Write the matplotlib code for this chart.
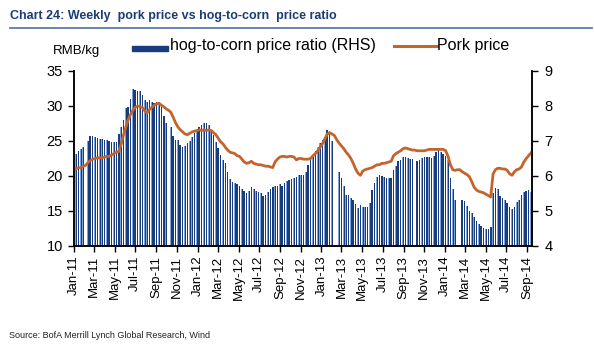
import numpy as np
import pandas as pd
import matplotlib
matplotlib.use("Agg")
import matplotlib.pyplot as plt
import matplotlib.dates as mdates
from matplotlib.lines import Line2D
from matplotlib.patches import Rectangle

nan = np.nan

# weekly observations, starting first Friday of 2011
weeks = pd.date_range("2011-01-07", periods=193, freq="7D")

# hog-to-corn price ratio (RHS), gaps = holiday weeks with no reading
ratio = [
    6.62, 6.72, 6.78, 6.82, nan, 7.00, 7.14, 7.14, 7.12, 7.08,
    7.06, 7.05, 7.04, 7.02, 7.00, 6.98, 6.96, 6.96, 7.20, 7.40,
    7.60, 7.94, 7.96, 8.20, 8.48, 8.46, 8.44, 8.42, 8.30, 8.18,
    8.10, 8.16, 8.12, 8.08, 8.10, 8.08, 7.98, 7.70, 7.52, nan,
    7.40, 7.14, 7.04, 7.02, 6.88, 6.82, 6.86, 6.94, 7.00, 7.10,
    7.22, 7.32, 7.40, 7.46, 7.50, 7.50, 7.46, 7.32, 7.16, 6.98,
    6.80, 6.60, 6.46, 6.38, 6.10, 5.90, 5.82, 5.80, 5.76, 5.70,
    5.64, 5.56, 5.50, 5.58, 5.68, 5.62, 5.58, 5.54, 5.50, 5.44,
    5.46, 5.54, 5.62, 5.68, 5.72, 5.72, 5.76, 5.72, 5.80, 5.86,
    5.88, 5.90, 5.93, 5.96, 6.03, 6.03, 6.03, 6.10, 6.30, 6.45,
    6.55, 6.70, 6.82, 6.95, 7.04, 7.10, 7.30, 7.25, 7.00, nan,
    nan, 6.12, 5.95, 5.70, 5.46, 5.46, 5.38, 5.30, 5.20, 5.08,
    5.16, 5.12, 5.12, 5.12, 5.22, 5.60, 5.80, 5.98, 6.02, 6.01,
    5.98, 5.95, 5.93, 5.95, 6.18, 6.29, 6.42, 6.46, 6.55, 6.53,
    6.50, 6.48, 6.48, nan, 6.44, 6.46, 6.50, 6.53, 6.55, 6.53,
    6.50, 6.58, 6.68, 6.74, 6.68, 6.64, 6.58, 6.45, 5.95, 5.62,
    5.31, nan, nan, 5.31, 5.28, 5.14, 5.00, 4.94, 4.82, 4.70,
    4.62, 4.57, 4.52, 4.49, 4.48, 4.55, 5.50, 5.65, 5.62, 5.44,
    5.38, 5.30, 5.24, 5.12, 5.05, 5.12, 5.25, 5.30, 5.45, 5.54,
    5.56, 5.60, 5.55,
]

# pork price, RMB/kg (LHS)
pork = [
    21.0, 21.2, 21.2, 21.4, 21.5, 21.9, 22.2, 22.4, 22.5, 22.6,
    22.6, 22.6, 22.7, 22.8, 22.8, 23.0, 23.2, 23.4, 23.5, 24.5,
    25.8, 27.0, 28.0, 28.8, 29.4, 29.8, 30.0, 29.9, 29.8, 29.3,
    29.0, 29.5, 29.8, 30.1, 30.3, 30.4, 30.1, 29.9, 29.6, 29.4,
    29.1, 28.4, 27.6, 27.0, 26.6, 26.3, 26.0, 25.9, 26.1, 26.3,
    26.4, 26.5, 26.6, 26.5, 26.6, 26.5, 26.6, 26.5, 26.2, 25.9,
    25.4, 24.9, 24.6, 24.1, 23.7, 23.4, 23.3, 23.2, 22.9, 22.8,
    22.4, 22.0, 21.8, 21.9, 22.1, 21.8, 21.7, 21.6, 21.6, 21.5,
    21.4, 21.4, 21.3, 21.2, 22.0, 22.4, 22.7, 22.8, 22.8, 22.7,
    22.8, 22.8, 22.7, 22.3, 22.5, 22.5, 22.4, 22.4, 22.4, 22.5,
    22.9, 23.2, 23.6, 24.1, 24.6, 25.3, 26.0, 26.2, 26.0, 25.8,
    25.2, 24.7, 24.3, 23.9, 23.4, 23.0, 22.5, 21.8, 21.0, 20.4,
    20.1, 20.7, 20.9, 21.0, 21.1, 21.2, 21.4, 21.6, 21.6, 21.8,
    21.8, 21.9, 22.0, 22.1, 22.9, 23.2, 23.4, 23.6, 23.9, 24.0,
    23.9, 23.8, 23.7, 23.7, 23.6, 23.6, 23.6, 23.6, 23.7, 23.8,
    23.8, 23.8, 23.8, 23.8, 23.8, 23.8, 23.6, 22.8, 21.6, 20.9,
    20.8, 20.9, 20.9, 20.6, 20.4, 20.2, 19.9, 19.2, 18.4, 18.0,
    17.8, 17.7, 17.6, 17.4, 17.2, 17.0, 20.3, 20.9, 21.1, 21.1,
    21.0, 21.0, 20.8, 20.3, 20.1, 20.6, 20.9, 21.0, 21.3, 22.0,
    22.5, 22.9, 23.3,
]

title = "Chart 24: Weekly  pork price vs hog-to-corn  price ratio"
source = "Source: BofA Merrill Lynch Global Research, Wind"

navy = "#183C7E"
light = "#7EA3D4"
orange = "#C4642C"
plain = ["Liberation Sans", "DejaVu Sans"]

fig = plt.figure(figsize=(5.94, 3.56), dpi=100)
ax1 = fig.add_axes([0.1246, 0.309, 0.771, 0.4916])
ax2 = ax1.twinx()

# bars on the right axis, line on the left axis drawn above
ax2.bar(weeks, np.array(ratio) - 4, bottom=4, width=4.8, color=navy,
        linewidth=0, align="center")
ax2.bar(weeks - pd.Timedelta(days=1.3), np.array(ratio) - 4, bottom=4,
        width=1.3, color=light, linewidth=0, align="center")
ax1.plot(weeks, pork, color=orange, lw=2.0, solid_joinstyle="round")
ax1.set_zorder(ax2.get_zorder() + 1)
ax1.patch.set_visible(False)

ax1.set_ylim(10, 35)
ax2.set_ylim(4, 9)
ax1.set_yticks(range(10, 36, 5))
ax2.set_yticks(range(4, 10))
ax1.set_xlim(pd.Timestamp("2011-01-01"), pd.Timestamp("2014-09-15"))

ax1.xaxis.set_major_locator(mdates.MonthLocator(bymonth=[1, 3, 5, 7, 9, 11]))
ax1.xaxis.set_major_formatter(mdates.DateFormatter("%b-%y"))

for ax in (ax1, ax2):
    ax.spines["top"].set_visible(False)
    for s in ("left", "right", "bottom"):
        ax.spines[s].set_linewidth(1.1)
    ax.tick_params(direction="out", length=4, width=1.0, labelsize=10.5)
ax1.tick_params(axis="x", pad=3, labelsize=9.5, labelrotation=90)
ax1.tick_params(axis="y", pad=4)
ax2.tick_params(axis="y", pad=5)
for lab in ax1.get_xticklabels() + ax1.get_yticklabels() + ax2.get_yticklabels():
    lab.set_family(plain)

# header
fig.text(0.017, 0.955, title, family=plain, fontweight="bold",
         fontsize=9, color="#1C3C78", va="center", ha="left")
fig.add_artist(Line2D([0.017, 0.997], [0.922, 0.922], color="#5D7CA6",
                      lw=1.3, transform=fig.transFigure))
fig.text(0.089, 0.857, "RMB/kg", family=plain, fontsize=9.5,
         va="center", ha="left")

# legend drawn by hand to match the layout
fig.add_artist(Rectangle((0.223, 0.858), 0.060, 0.014, color=navy,
                         transform=fig.transFigure))
fig.text(0.287, 0.871, "hog-to-corn price ratio (RHS)", family=plain,
         fontsize=11.5, va="center", ha="left")
fig.add_artist(Line2D([0.664, 0.735], [0.871, 0.871], color=orange,
                      lw=2.2, transform=fig.transFigure))
fig.text(0.736, 0.871, "Pork price", family=plain, fontsize=11.5,
         va="center", ha="left")

fig.text(0.015, 0.057, source, family=plain, fontsize=6.5,
         color="#222222", va="center", ha="left")

fig.savefig("out.png", dpi=100)
